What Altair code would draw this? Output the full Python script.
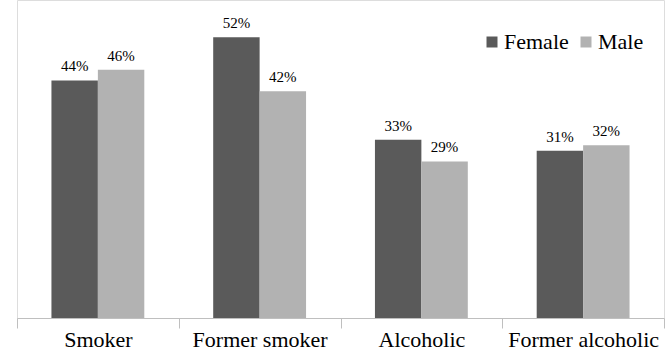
import altair as alt
import pandas as pd

categories = ["Smoker", "Former smoker", "Alcoholic", "Former alcoholic"]
female = [44, 52, 33, 31]
male = [46, 42, 29, 32]
groups = ["Female", "Male"]
colors = ["#5a5a5a", "#b2b2b2"]

rows = []
for c, f, m in zip(categories, female, male):
    rows.append({"cat": c, "sex": "Female", "val": f, "lbl": f"{f}%"})
    rows.append({"cat": c, "sex": "Male", "val": m, "lbl": f"{m}%"})
df = pd.DataFrame(rows)

FONT = "Liberation Serif"

x = alt.X("cat:N", sort=categories, title=None,
          scale=alt.Scale(paddingInner=0, paddingOuter=0),
          axis=alt.Axis(tickBand="extent", labelAngle=0, labelFont=FONT, labelFontSize=22,
                        labelColor="#000000", labelPadding=1, tickSize=10, tickColor="#bfbfbf",
                        domainColor="#bfbfbf", labelLimit=300))
xo = alt.XOffset("sex:N", sort=groups, scale=alt.Scale(paddingOuter=0.742, paddingInner=0))
y = alt.Y("val:Q", scale=alt.Scale(domain=[0, 58.9]), axis=None)

bars = alt.Chart(df).mark_bar().encode(
    x=x, xOffset=xo, y=y,
    color=alt.Color("sex:N", sort=groups, scale=alt.Scale(domain=groups, range=colors),
                    legend=alt.Legend(title=None, orient="none", legendX=464, legendY=31,
                                      direction="horizontal", symbolType="square", symbolSize=121,
                                      symbolStrokeWidth=0, labelFont=FONT, labelFontSize=22,
                                      labelColor="#000000", columnPadding=6, labelOffset=1))
)

text = alt.Chart(df).mark_text(baseline="bottom", dy=-6, font=FONT, fontSize=15, color="#000000").encode(
    x=x, xOffset=xo, y=y, text="lbl:N"
)

chart = (bars + text).properties(
    width=647, height=318,
    padding={"left": 17, "top": 0, "right": 8, "bottom": 33},
    autosize=alt.AutoSizeParams(type="none"),
).configure_view(stroke=None).configure(background="#ffffff", font=FONT)

chart.save("out.html", embed_options={"renderer": "svg", "actions": False})
